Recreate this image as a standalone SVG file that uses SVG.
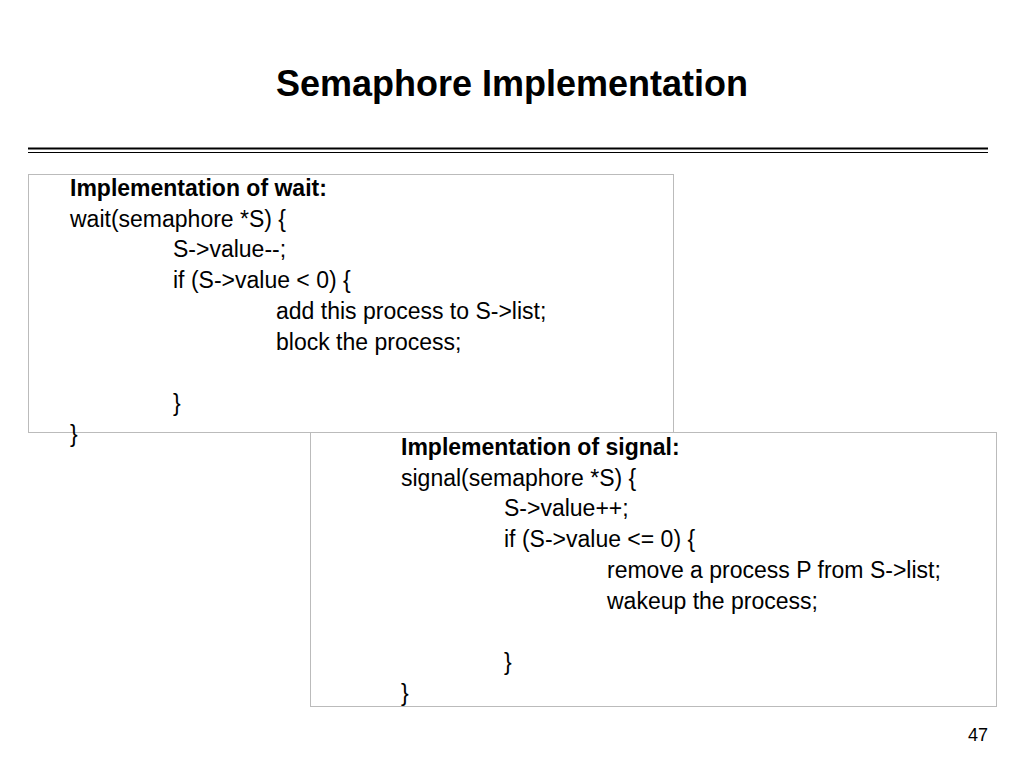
<svg xmlns="http://www.w3.org/2000/svg" width="1024" height="768" viewBox="0 0 1024 768">
<style>
text{font-family:"Liberation Sans",Arial,sans-serif;fill:#000}
.t{font-size:23px}
.b{font-weight:bold}
.box{fill:#fff;stroke:#bbb;stroke-width:1}
</style>
<rect width="1024" height="768" fill="#fff"/>
<text x="512" y="96" text-anchor="middle" class="b" font-size="36">Semaphore Implementation</text>
<line x1="28" y1="148.5" x2="988" y2="148.5" stroke="#000" stroke-width="2"/>
<line x1="28" y1="152.5" x2="988" y2="152.5" stroke="#000" stroke-width="1"/>
<g id="wait">
<rect class="box" x="28.5" y="174.5" width="645" height="258"/>
<text class="t b" x="70" y="196">Implementation of wait:</text>
<text class="t" x="70" y="227">wait(semaphore *S) {</text>
<text class="t" x="173" y="257">S-&gt;value--;</text>
<text class="t" x="173" y="288">if (S-&gt;value &lt; 0) {</text>
<text class="t" x="276" y="319">add this process to S-&gt;list;</text>
<text class="t" x="276" y="350">block the process;</text>
<text class="t" x="173" y="411">}</text>
<text class="t" x="70" y="442">}</text>
</g>
<g id="signal">
<rect class="box" x="310.5" y="432.5" width="686" height="274"/>
<text class="t b" x="401" y="455">Implementation of signal:</text>
<text class="t" x="401" y="486">signal(semaphore *S) {</text>
<text class="t" x="504" y="516">S-&gt;value++;</text>
<text class="t" x="504" y="547">if (S-&gt;value &lt;= 0) {</text>
<text class="t" x="607" y="578">remove a process P from S-&gt;list;</text>
<text class="t" x="607" y="609">wakeup the process;</text>
<text class="t" x="504" y="670">}</text>
<text class="t" x="401" y="701">}</text>
</g>
<text x="988" y="741" text-anchor="end" font-size="18">47</text>
<g id="connectors"/>
</svg>
